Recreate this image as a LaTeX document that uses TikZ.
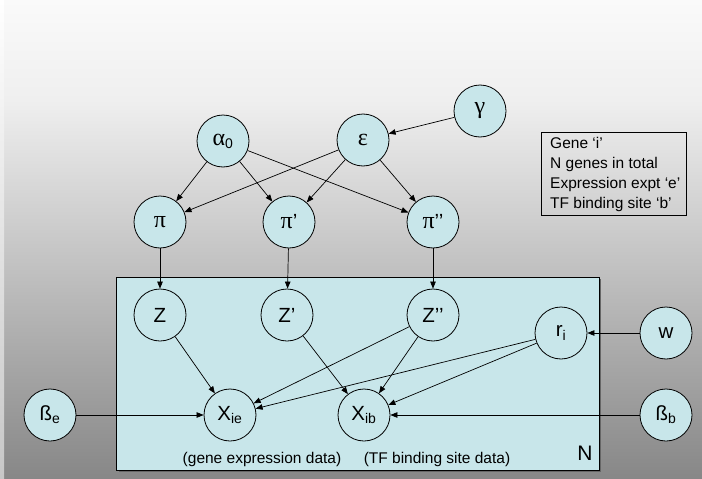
\documentclass[tikz,border=0pt]{standalone}
\usepackage{fontspec}
\setmainfont{Liberation Sans}
\newfontfamily\grk{Liberation Serif}
\usetikzlibrary{arrows.meta}
\definecolor{nodefill}{HTML}{C8E6EA}
\definecolor{bgtop}{HTML}{FAFAFA}
\definecolor{bgmid}{HTML}{EFEFEF}
\definecolor{bgbottom}{HTML}{878787}
\newcommand{\sbs}[1]{$_{\textrm{\fontsize{14}{16}\selectfont #1}}$}
\newcommand{\gk}[1]{{\grk\fontsize{24}{26}\selectfont #1}}
\begin{document}
\begin{tikzpicture}[x=1pt,y=-1pt,
  var/.style={circle,draw=black,line width=0.8pt,fill=nodefill,minimum size=52pt,inner sep=0pt,font=\fontsize{20.5}{22}\selectfont},
  edge/.style={-{Triangle[length=7pt,width=5.5pt]},line width=0.7pt},
  small/.style={font=\fontsize{15.5}{20}\selectfont}]
\useasboundingbox (0,0) rectangle (702,479);
\shade[top color=bgtop,bottom color=bgmid] (0,0) rectangle (702,100.5);
\shade[top color=bgmid,bottom color=bgbottom] (0,100) rectangle (702,479);
\shade[top color=white,bottom color=black!22] (0,0) rectangle (4,479);
% plate
\fill[black!60] (118.5,279) rectangle (601,472);
\node[draw=black,line width=0.8pt,fill=nodefill,minimum width=483pt,minimum height=193pt,inner sep=0pt,anchor=north west] (plate) at (116,277) {};
% legend
\node[draw=black,line width=0.8pt,minimum width=145pt,minimum height=83pt,inner sep=0pt,anchor=north west] (legend) at (541,132) {};
\node[small,align=left,anchor=north west,inner sep=0pt] (legtext) at (550,137.5)
  {Gene `i'\\N genes in total\\Expression expt `e'\\TF binding site `b'};
% nodes
\node[var] (a0) at (223,141) {\gk{α}\sbs{0}};
\node[var] (eps) at (363,140) {\gk{ε}};
\node[var] (gam) at (480,111) {\gk{γ}};
\node[var] (p1) at (160,222) {\gk{π}};
\node[var] (p2) at (289,222) {\gk{π}’};
\node[var] (p3) at (433,222) {\gk{π}’’};
\node[var] (z1) at (160,315) {Z};
\node[var] (z2) at (287,315) {Z’};
\node[var] (z3) at (433,315) {Z’’};
\node[var] (ri) at (561,333) {r\sbs{i}};
\node[var] (w) at (666,333) {w};
\node[var] (xie) at (230,415) {X\sbs{ie}};
\node[var] (xib) at (364,415) {X\sbs{ib}};
\node[var] (be) at (50,415) {ß\sbs{e}};
\node[var] (bb) at (666,415) {ß\sbs{b}};
% labels
\node[small] (l1) at (262,459) {(gene expression data)};
\node[small] (l2) at (437,459) {(TF binding site data)};
\node[font=\fontsize{21}{22}\selectfont] (N) at (585,453) {N};
% edges
\draw[edge] (gam) -- (eps);
\draw[edge] (a0) -- (p1);
\draw[edge] (a0) -- (p2);
\draw[edge] (a0) -- (p3);
\draw[edge] (eps) -- (p1);
\draw[edge] (eps) -- (p2);
\draw[edge] (eps) -- (p3);
\draw[edge] (p1) -- (z1);
\draw[edge] (p2) -- (z2);
\draw[edge] (p3) -- (z3);
\draw[edge] (z1) -- (xie);
\draw[edge] (z2) -- (xib);
\draw[edge] (z3) -- (xie);
\draw[edge] (z3) -- (xib);
\draw[edge] (ri) -- (xie);
\draw[edge] (ri) -- (xib);
\draw[edge] (w) -- (ri);
\draw[edge] (be) -- (xie);
\draw[edge] (bb) -- (xib);
\end{tikzpicture}
\end{document}
